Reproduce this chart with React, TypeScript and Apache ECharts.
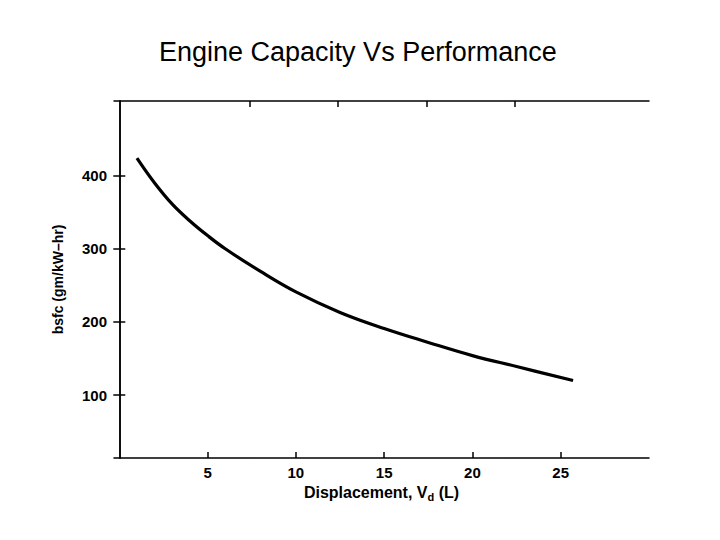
import React, { useEffect, useRef } from "react";
import * as echarts from "echarts";

const displacement = [1, 2, 3, 4, 5, 6, 8, 10, 12.5, 15, 17.5, 20, 22.5, 25.7];
const bsfc = [424, 390, 361, 338, 318, 300, 269, 241, 213, 191, 172, 154, 139, 120];
const xTicks = [5, 10, 15, 20, 25];
const xTopTicks = [7.4, 12.4, 17.4, 22.4];
const yTicks = [100, 200, 300, 400];

export default function App() {
  const ref = useRef<HTMLDivElement>(null);
  useEffect(() => {
    const chart = echarts.init(ref.current!, null, { renderer: "svg" });
    const font = "'Liberation Sans', Arial, Helvetica, sans-serif";
    const lineStyle = { color: "#000", width: 1.5 };
    chart.setOption({
      animation: false,
      backgroundColor: "#fff",
      title: {
        text: "Engine Capacity Vs Performance",
        left: 154,
        top: 33,
        textStyle: { fontFamily: font, fontWeight: "normal", fontSize: 27, color: "#000" },
      },
      grid: { left: 114, top: 101, right: 71, bottom: 82 },
      xAxis: [
        {
          type: "value",
          position: "bottom",
          min: -0.3,
          max: 30,
          axisLine: { show: true, lineStyle },
          axisTick: { show: true, inside: true, length: 6, lineStyle, customValues: xTicks },
          axisLabel: {
            customValues: xTicks,
            margin: 7,
            fontFamily: font,
            fontWeight: "bold",
            fontSize: 15,
            color: "#000",
          },
          splitLine: { show: false },
          name: "Displacement, V{sub|d} (L)",
          nameLocation: "middle",
          nameGap: 24,
          nameTextStyle: {
            fontFamily: font,
            fontWeight: "bold",
            fontSize: 16,
            color: "#000",
            rich: {
              sub: { fontFamily: font, fontWeight: "bold", fontSize: 11, color: "#000", padding: [8, 0, 0, 0] },
            },
          },
        },
        {
          type: "value",
          position: "top",
          min: -0.3,
          max: 30,
          axisLine: { show: true, lineStyle },
          axisTick: { show: true, inside: true, length: 6, lineStyle, customValues: xTopTicks },
          axisLabel: { show: false },
          splitLine: { show: false },
        },
      ],
      yAxis: [
        {
          type: "value",
          position: "left",
          min: 14,
          max: 502,
          axisLine: { show: true, lineStyle },
          axisTick: { show: true, inside: true, length: 6, lineStyle, customValues: yTicks },
          axisLabel: {
            customValues: yTicks,
            margin: 7,
            fontFamily: font,
            fontWeight: "bold",
            fontSize: 15,
            color: "#000",
          },
          splitLine: { show: false },
          name: "bsfc (gm/kW\u2013hr)",
          nameLocation: "middle",
          nameGap: 49,
          nameTextStyle: { fontFamily: font, fontWeight: "bold", fontSize: 14, color: "#000" },
        },
        {
          type: "value",
          position: "right",
          min: 14,
          max: 502,
          axisLine: { show: true, lineStyle },
          axisTick: { show: true, inside: true, length: 6, lineStyle, customValues: yTicks },
          axisLabel: { show: false },
          splitLine: { show: false },
        },
      ],
      series: [
        {
          type: "line",
          xAxisIndex: 0,
          yAxisIndex: 0,
          data: displacement.map((x, i) => [x, bsfc[i]]),
          smooth: 0.4,
          showSymbol: false,
          lineStyle: { color: "#000", width: 3.2 },
          itemStyle: { color: "#000" },
        },
      ],
    });
    return () => chart.dispose();
  }, []);
  return (
    <div
      ref={ref}
      style={{ position: "absolute", left: 0, top: 0, width: 720, height: 540, background: "#fff" }}
    />
  );
}
